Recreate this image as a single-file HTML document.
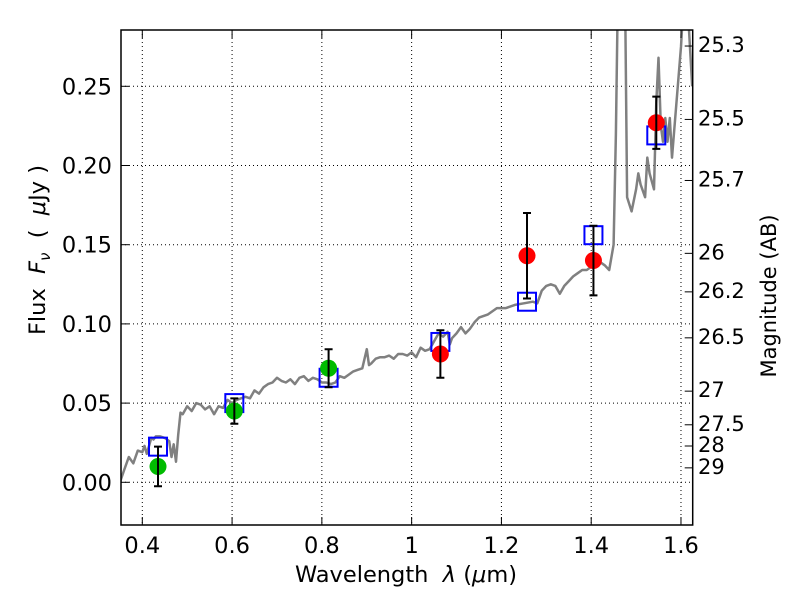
<!DOCTYPE html>
<html><head><meta charset="utf-8"><style>
body{margin:0;background:#fff}
svg{display:block;font-family:"DejaVu Sans","Liberation Sans",sans-serif}
</style></head><body>
<svg id="chart" width="800" height="600" viewBox="0 0 800 600">
<rect width="800" height="600" fill="#fff"/>
<defs><clipPath id="clip"><rect x="121" y="30" width="571.7" height="495"/></clipPath></defs>
<g id="grid"></g>
<g id="spec" clip-path="url(#clip)"></g>
<g id="marks"></g>
<rect x="121" y="30" width="571.7" height="495" fill="none" stroke="#000" stroke-width="1.5"/>
<g id="axes" font-size="22.5" fill="#000"></g>
<text x="406" y="582" font-size="22.5" text-anchor="middle" xml:space="preserve">Wavelength  <tspan font-style="italic">λ</tspan> (<tspan font-style="italic">μ</tspan>m)</text>
<text transform="translate(45,250) rotate(-90)" font-size="22.5" text-anchor="middle" xml:space="preserve">Flux  <tspan font-style="italic">F</tspan><tspan font-style="italic" font-size="15" dy="5">ν</tspan><tspan dy="-5">  (  </tspan><tspan font-style="italic">μ</tspan>Jy )</text>
<text transform="translate(776,296) rotate(-90)" font-size="21" text-anchor="middle">Magnitude (AB)</text>
</svg>
<script>
const specWave=[0.35,0.36,0.37,0.38,0.39,0.40,0.405,0.41,0.42,0.425,0.43,0.44,0.45,0.46,0.465,0.47,0.475,0.48,0.485,0.49,0.50,0.51,0.52,0.53,0.54,0.55,0.56,0.57,0.58,0.59,0.60,0.61,0.62,0.63,0.64,0.65,0.66,0.67,0.68,0.69,0.70,0.71,0.72,0.73,0.74,0.75,0.76,0.77,0.78,0.79,0.80,0.81,0.82,0.83,0.84,0.85,0.86,0.87,0.88,0.89,0.90,0.905,0.91,0.92,0.93,0.94,0.95,0.96,0.97,0.98,0.99,1.00,1.01,1.02,1.03,1.04,1.05,1.06,1.07,1.08,1.085,1.09,1.10,1.11,1.12,1.13,1.14,1.15,1.17,1.19,1.21,1.23,1.25,1.27,1.28,1.29,1.30,1.31,1.32,1.33,1.34,1.35,1.36,1.37,1.38,1.39,1.40,1.41,1.42,1.43,1.44,1.45,1.455,1.46,1.47,1.475,1.48,1.49,1.50,1.505,1.51,1.52,1.525,1.53,1.535,1.54,1.545,1.55,1.555,1.56,1.565,1.57,1.575,1.58,1.59,1.60,1.605,1.61,1.615,1.625];
const specFlux=[0.000,0.008,0.016,0.012,0.020,0.019,0.023,0.018,0.028,0.027,0.029,0.029,0.028,0.026,0.016,0.024,0.013,0.030,0.044,0.043,0.048,0.045,0.050,0.049,0.046,0.048,0.043,0.048,0.047,0.052,0.050,0.052,0.053,0.054,0.053,0.058,0.056,0.060,0.062,0.063,0.066,0.064,0.063,0.065,0.062,0.066,0.067,0.064,0.066,0.065,0.063,0.063,0.062,0.063,0.067,0.066,0.068,0.070,0.071,0.072,0.084,0.074,0.075,0.078,0.079,0.079,0.080,0.078,0.081,0.081,0.080,0.082,0.079,0.085,0.083,0.084,0.089,0.094,0.092,0.095,0.087,0.091,0.094,0.098,0.094,0.097,0.101,0.104,0.106,0.110,0.110,0.112,0.113,0.114,0.113,0.121,0.124,0.125,0.124,0.119,0.124,0.127,0.130,0.132,0.134,0.134,0.136,0.138,0.139,0.137,0.134,0.150,0.220,0.320,0.400,0.320,0.180,0.171,0.185,0.195,0.188,0.180,0.205,0.195,0.190,0.185,0.240,0.268,0.225,0.215,0.230,0.215,0.230,0.205,0.240,0.275,0.300,0.320,0.300,0.250,0.262,0.266];
const obsWave=[0.435,0.605,0.815,1.064,1.257,1.405,1.545];
const obsFlux=[0.010,0.045,0.072,0.081,0.143,0.140,0.227];
const obsErr=[0.0125,0.008,0.012,0.015,0.027,0.022,0.0165];
const obsColor=['#00bb00','#00bb00','#00bb00','#ff0000','#ff0000','#ff0000','#ff0000'];
const modelFlux=[0.0225,0.050,0.066,0.0886,0.114,0.156,0.219];
const xTicks=[0.4,0.6,0.8,1.0,1.2,1.4,1.6];
const xTickLabels=['0.4','0.6','0.8','1','1.2','1.4','1.6'];
const yTicks=[0,0.05,0.10,0.15,0.20,0.25];
const yTickLabels=['0.00','0.05','0.10','0.15','0.20','0.25'];
const magTicks=[25.3,25.5,25.7,26,26.2,26.5,27,27.5,28,29];
const magTickLabels=['25.3','25.5','25.7','26','26.2','26.5','27','27.5','28','29'];

const X=w=>142.3+(w-0.4)*448.9;
const Y=f=>482.3-f*1584;
const NS='http://www.w3.org/2000/svg';
function mk(tag,parent,attrs){const e=document.createElementNS(NS,tag);for(const k in attrs)e.setAttribute(k,attrs[k]);parent.appendChild(e);return e;}
const grid=document.getElementById('grid'),spec=document.getElementById('spec'),marks=document.getElementById('marks'),axes=document.getElementById('axes');

xTicks.forEach((t,i)=>{
  const g=mk('line',grid,{x1:X(t),x2:X(t),y1:30,y2:525,stroke:'#000','stroke-width':1,'stroke-dasharray':'1,3'});
  
  
  mk('line',axes,{x1:X(t),x2:X(t),y1:525,y2:517,stroke:'#000'});
  mk('line',axes,{x1:X(t),x2:X(t),y1:30,y2:38,stroke:'#000'});
  const l=mk('text',axes,{x:X(t),y:553,'text-anchor':'middle'});l.textContent=xTickLabels[i];
  
  
});
yTicks.forEach((t,i)=>{
  const g=mk('line',grid,{x1:121,x2:692,y1:Y(t),y2:Y(t),stroke:'#000','stroke-width':1,'stroke-dasharray':'1,3'});
  
  
  mk('line',axes,{x1:121,x2:129,y1:Y(t),y2:Y(t),stroke:'#000'});
  const l=mk('text',axes,{x:112,y:Y(t)+8,'text-anchor':'end'});l.textContent=yTickLabels[i];
  
  
});
magTicks.forEach((m,i)=>{
  const f=Math.pow(10,(23.9-m)/2.5);
  mk('line',axes,{x1:692.7,x2:684.7,y1:Y(f),y2:Y(f),stroke:'#000'});
  const l=mk('text',axes,{x:698,y:Y(f)+6,'text-anchor':'start','font-size':21});l.textContent=magTickLabels[i];
  
  
});
const pts=specWave.map((w,i)=>X(w).toFixed(1)+','+Y(specFlux[i]).toFixed(1)).join(' ');
const pl=mk('polyline',spec,{points:pts,fill:'none',stroke:'#808080','stroke-width':2.5,'stroke-linejoin':'round'});


obsWave.forEach((w,i)=>{
  const x=X(w);
  const sq=mk('rect',marks,{x:x-9,y:Y(modelFlux[i])-9,width:18,height:18,fill:'none',stroke:'#0000ff','stroke-width':2});
  
  
  const c=mk('circle',marks,{cx:x,cy:Y(obsFlux[i]),r:8.5,fill:obsColor[i]});
  
  
  const y1=Y(obsFlux[i]+obsErr[i]),y2=Y(obsFlux[i]-obsErr[i]);
  const eb=mk('path',marks,{d:`M${x},${y1}V${y2}M${x-4},${y1}H${x+4}M${x-4},${y2}H${x+4}`,stroke:'#000','stroke-width':2,fill:'none'});
  
  
});
</script>
</body></html>
